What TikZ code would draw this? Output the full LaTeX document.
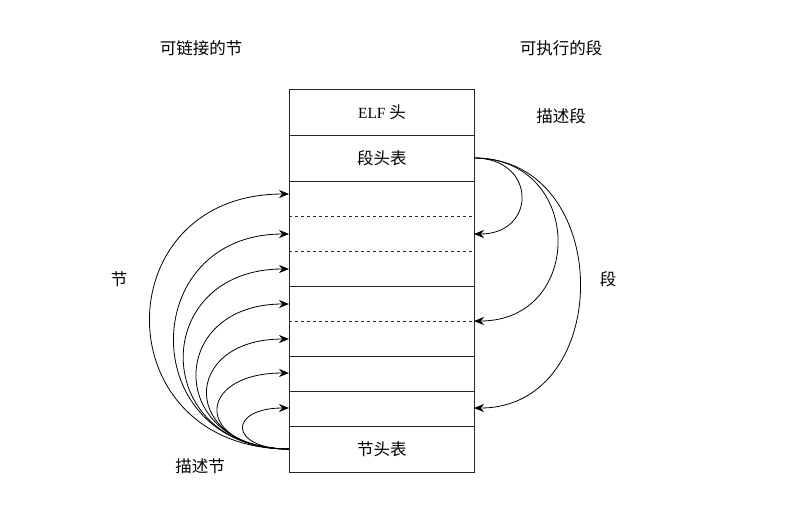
\documentclass[tikz,border=0pt]{standalone}
\usepackage{fontspec}
\setmainfont{Liberation Serif}
\newfontfamily\cjk{Noto Sans CJK SC}
\usetikzlibrary{arrows.meta}
\begin{document}
\begin{tikzpicture}[x=1pt,y=-1pt,
  cell/.style={draw=black!85,line width=0.8pt,minimum width=185pt,inner sep=0pt,anchor=north west},
  lbl/.style={font=\cjk\fontsize{16.5}{19}\selectfont,inner sep=0pt},
  conn/.style={line width=0.8pt,-{Stealth[length=10pt,width=8pt]}},
  dashline/.style={draw=black!85,line width=0.8pt,dash pattern=on 3pt off 3pt}]
\useasboundingbox (0,0) rectangle (810,511);
% cells
\node[cell,minimum height=46pt] (elf) at (289,89) {};
\node[lbl] at (elf.center) {{\rmfamily\fontsize{15.5}{18}\selectfont ELF} 头};
\node[cell,minimum height=46pt] (phdr) at (289,135) {};
\node[lbl] at (phdr.center) {段头表};
\node[cell,minimum height=105pt] (segA) at (289,181) {};
\node[cell,minimum height=70pt] (segB) at (289,286) {};
\node[cell,minimum height=35pt] (segC) at (289,356) {};
\node[cell,minimum height=35pt] (segD) at (289,391) {};
\node[cell,minimum height=46pt] (shdr) at (289,426) {};
\node[lbl] at (shdr.center) {节头表};
\draw[dashline] (289,216) -- (474,216);
\draw[dashline] (289,251) -- (474,251);
\draw[dashline] (289,321) -- (474,321);
% labels
\node[lbl] (t1) at (201,48) {可链接的节};
\node[lbl] (t2) at (561,48) {可执行的段};
\node[lbl] (t3) at (561,116) {描述段};
\node[lbl] (t4) at (119,279) {节};
\node[lbl] (t5) at (608,279) {段};
\node[lbl] (t6) at (200,466) {描述节};
% coordinates
\coordinate (ls) at (289,449);
\coordinate (l1) at (289,194);
\coordinate (l2) at (289,234);
\coordinate (l3) at (289,269);
\coordinate (l4) at (289,304);
\coordinate (l5) at (289,339);
\coordinate (l6) at (289,373);
\coordinate (l7) at (289,408);
\coordinate (rs) at (474,158);
\coordinate (r1) at (474,234);
\coordinate (r2) at (474,321);
\coordinate (r3) at (474,408);
% left curves
\draw[conn] (ls) .. controls +(-185,0) and +(-185,0) .. (l1);
\draw[conn] (ls) .. controls +(-153,0) and +(-153,0) .. (l2);
\draw[conn] (ls) .. controls +(-140,0) and +(-140,0) .. (l3);
\draw[conn] (ls) .. controls +(-123,0) and +(-123,0) .. (l4);
\draw[conn] (ls) .. controls +(-109,0) and +(-109,0) .. (l5);
\draw[conn] (ls) .. controls +(-95,0) and +(-95,0) .. (l6);
\draw[conn] (ls) .. controls +(-61,0) and +(-61,0) .. (l7);
% right curves
\draw[conn] (rs) .. controls +(63,0) and +(63,0) .. (r1);
\draw[conn] (rs) .. controls +(111,0) and +(111,0) .. (r2);
\draw[conn] (rs) .. controls +(141,0) and +(141,0) .. (r3);
\end{tikzpicture}
\end{document}
